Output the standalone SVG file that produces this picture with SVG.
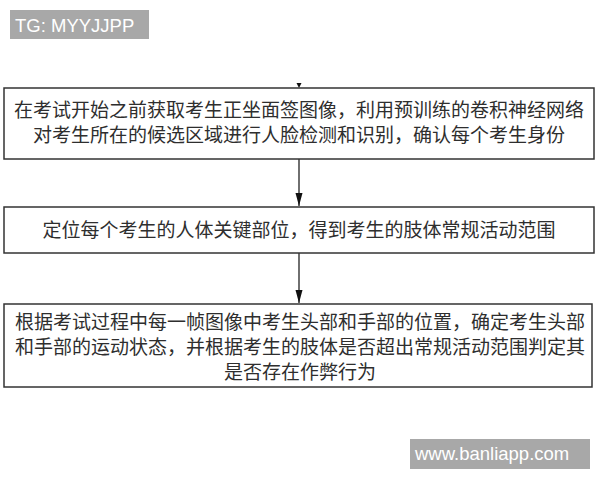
<svg xmlns="http://www.w3.org/2000/svg" width="600" height="480" viewBox="0 0 600 480">
<style>
.box{fill:#fff;stroke:#333;stroke-width:1.5}
.t{font-family:"Noto Sans CJK SC","Noto Sans",sans-serif;font-size:19px;fill:#2e2e2e;text-anchor:middle}
.conn{stroke:#222;stroke-width:1.3;fill:none}
.wm{fill:#a8a8a8}
.wmt{font-family:"Liberation Sans",Arial,sans-serif;fill:#fff}
</style>
<defs>
<marker id="ah" markerUnits="userSpaceOnUse" markerWidth="14" markerHeight="8" refX="13" refY="4" orient="auto" viewBox="0 0 14 8">
<path d="M0,0.5 L13,4 L0,7.5 Z" fill="#111"/>
</marker>
</defs>
<rect width="600" height="480" fill="#fff"/>
<g id="watermark-top">
<rect class="wm" x="10" y="10" width="139" height="29"/>
<text class="wmt" x="15" y="32" font-size="18.5">TG: MYYJJPP</text>
</g>
<g id="connectors">
<polygon points="296.5,83 301.5,83 299,88" fill="#111"/>
<line class="conn" x1="299" y1="159" x2="299" y2="206" marker-end="url(#ah)"/>
<line class="conn" x1="299" y1="253" x2="299" y2="303" marker-end="url(#ah)"/>
</g>
<g id="node1">
<rect class="box" x="4" y="88" width="590" height="71"/>
<text class="t" x="299" y="117">在考试开始之前获取考生正坐面签图像，利用预训练的卷积神经网络</text>
<text class="t" x="299" y="142">对考生所在的候选区域进行人脸检测和识别，确认每个考生身份</text>
</g>
<g id="node2">
<rect class="box" x="4" y="207" width="590" height="46"/>
<text class="t" x="299" y="237">定位每个考生的人体关键部位，得到考生的肢体常规活动范围</text>
</g>
<g id="node3">
<rect class="box" x="4" y="304" width="588" height="83"/>
<text class="t" x="300" y="329">根据考试过程中每一帧图像中考生头部和手部的位置，确定考生头部</text>
<text class="t" x="300" y="354">和手部的运动状态，并根据考生的肢体是否超出常规活动范围判定其</text>
<text class="t" x="300" y="379">是否存在作弊行为</text>
</g>
<g id="watermark-bottom">
<rect class="wm" x="410" y="439" width="180" height="30"/>
<text class="wmt" x="415" y="460" font-size="18.5">www.banliapp.com</text>
</g>
</svg>
